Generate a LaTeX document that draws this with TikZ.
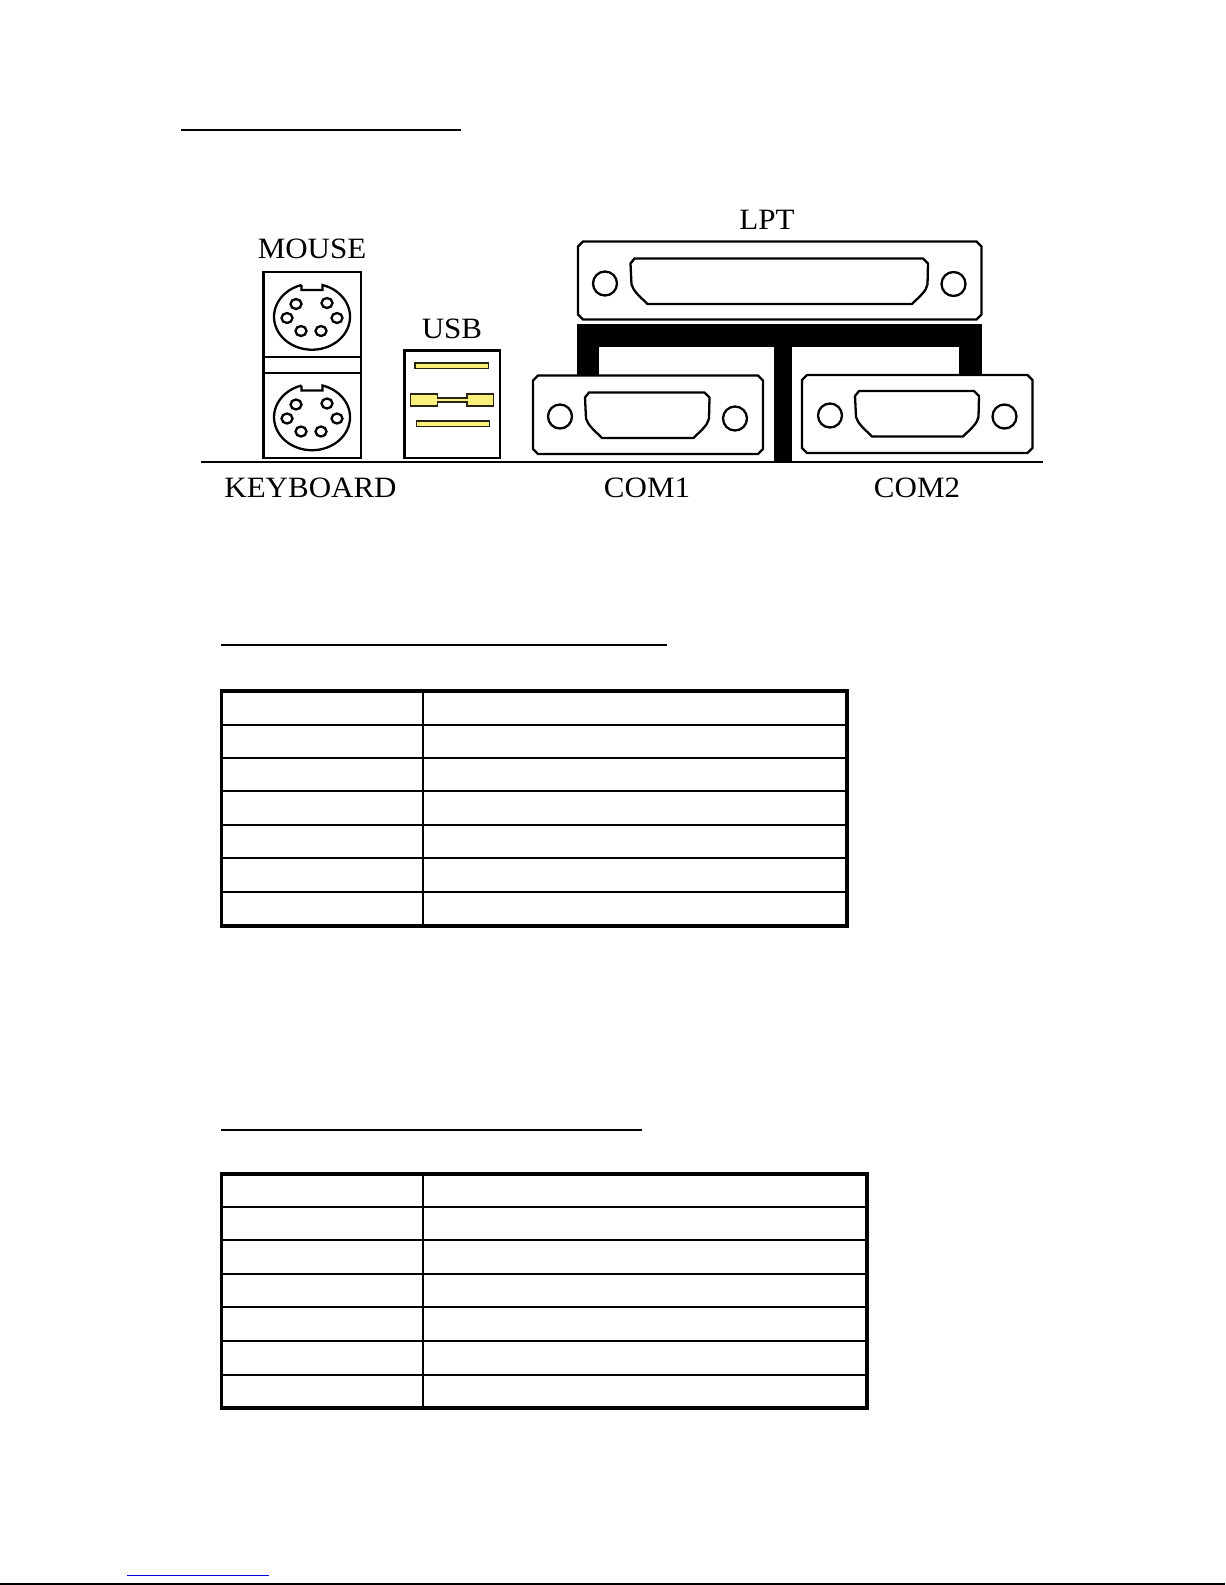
\documentclass[tikz,border=0pt]{standalone}
\usepackage{fontspec}
\setmainfont{Liberation Serif}[FakeStretch=1.05]
\definecolor{usbyellow}{RGB}{248,240,120}
\definecolor{linkblue}{RGB}{0,0,220}

\begin{document}
\begin{tikzpicture}[x=0.02cm, y=-0.02cm,
        portline/.style={line width=1.3pt, draw=black},
        usbbar/.style={line width=0.9pt, draw=black!85!usbyellow, fill=usbyellow},
        thinrule/.style={line width=0.65pt, draw=black},
        thickrule/.style={line width=1.13pt, draw=black},
        tableframe/.style={line width=2.2pt, draw=black},
        portlabel/.style={font=\fontsize{16.8}{20}\selectfont, inner sep=0pt}]

        \useasboundingbox (0,0) rectangle (1225,1585);

        % Heading rules
        \draw[thickrule] (181,130) -- (461,130);
        \draw[thickrule] (221,645) -- (667,645);
        \draw[thickrule] (221,1130) -- (642,1130);

        % Base line
        \draw[thickrule] (201,462) -- (1043,462);

        % Mouse and keyboard box
        \draw[portline] (263.5,272) rectangle (361,458);
        \draw[portline] (263.5,357) -- (361,357);
        \draw[portline] (263.5,373) -- (361,373);
        \foreach \cy in {317,417.5} {
            \draw[portline] (301.5,\cy-32) -- ++(0,5) -- ++(21,0) -- ++(0,-5)
                arc[start angle=-74, end angle=254, x radius=38, y radius=33];
            \foreach \dx/\dy in {-16/-13, 15/-14, -25/1, 25/1, -11/14, 9/14}
                \draw[portline] (312+\dx,\cy+\dy) circle[x radius=5.5, y radius=5];
        }

        % USB box
        \draw[line width=1.5pt, draw=black] (404.5,350.5) rectangle (500,458);
        \draw[usbbar] (415,362.8) rectangle (488.5,368.6);
        \draw[usbbar] (416.5,420.8) rectangle (489.5,426.6);
        \draw[usbbar] (410.5,393.8) -- (437.5,393.8) -- (437.5,398) -- (467,398)
            -- (467,393.8) -- (493.5,393.8) -- (493.5,406.2) -- (467,406.2) -- (467,402)
            -- (437.5,402) -- (437.5,406.2) -- (410.5,406.2) -- cycle;

        % Black bracket
        \fill[black] (577,324) rectangle (982,346.5);
        \fill[black] (577,346) rectangle (598.5,376);
        \fill[black] (959,346) rectangle (982,375);
        \fill[black] (774,346) rectangle (791.5,462);

        % Plates of LPT, COM1, COM2
        \foreach \xa/\ya/\xb/\yb in {578/241.5/981.5/319.5, 533/375.5/763/454, 802/375/1032.5/453}
            \draw[portline, fill=white] (\xa+5,\ya) -- (\xb-5,\ya) -- (\xb,\ya+5) -- (\xb,\yb-5)
                -- (\xb-5,\yb) -- (\xa+5,\yb) -- (\xa,\yb-5) -- (\xa,\ya+5) -- cycle;

        % D shells
        \foreach \xa/\ya/\xb/\yb in {630.5/258.5/928/304, 585/392.5/709.5/438, 855/391/979/436.5}
            \draw[portline] (\xa+4,\ya) -- (\xb-5,\ya) -- (\xb,\ya+5) -- (\xb-0.5,\ya+26)
                .. controls (\xb-2,\ya+33) and (\xb-8,\yb-8) .. (\xb-16,\yb)
                -- (\xa+17,\yb) .. controls (\xa+9,\yb-8) and (\xa+3,\ya+33) .. (\xa+1,\ya+26)
                -- (\xa,\ya+5) -- cycle;

        % Screws
        \foreach \sx/\sy in {605/283.5, 953.5/284, 560/416.5, 735/418.5, 830/415.5, 1004.5/416.5}
            \draw[portline] (\sx,\sy) circle(12);

        \node[portlabel] (lblmouse) at (312,249) {MOUSE};
        \node[portlabel] (lblusb) at (452,329) {USB};
        \node[portlabel] (lbllpt) at (767,220) {LPT};
        \node[portlabel] (lblkeyboard) at (310.5,488) {KEYBOARD};
        \node[portlabel] (lblcomone) at (647,488) {COM1};
        \node[portlabel] (lblcomtwo) at (917,488) {COM2};

        % First table
        \draw[tableframe] (221.5,691) rectangle (847,926);
        \draw[thickrule] (423,691) -- (423,926);
        \foreach \ry in {725,791,825,892}
            \draw[thickrule] (221.5,\ry) -- (847,\ry);
        \foreach \ry in {758,858}
            \draw[thinrule] (221.5,\ry) -- (847,\ry);

        % Second table
        \draw[tableframe] (221.5,1174) rectangle (867,1408);
        \draw[thickrule] (423,1174) -- (423,1408);
        \foreach \ry in {1207,1274,1307,1375}
            \draw[thickrule] (221.5,\ry) -- (867,\ry);
        \foreach \ry in {1240,1341}
            \draw[thinrule] (221.5,\ry) -- (867,\ry);

        % Page foot
        \draw[line width=1.1pt, draw=linkblue] (127,1575.5) -- (269,1575.5);
        \draw[line width=1.1pt, draw=black] (0,1584) -- (1225,1584);

\end{tikzpicture}
\end{document}
